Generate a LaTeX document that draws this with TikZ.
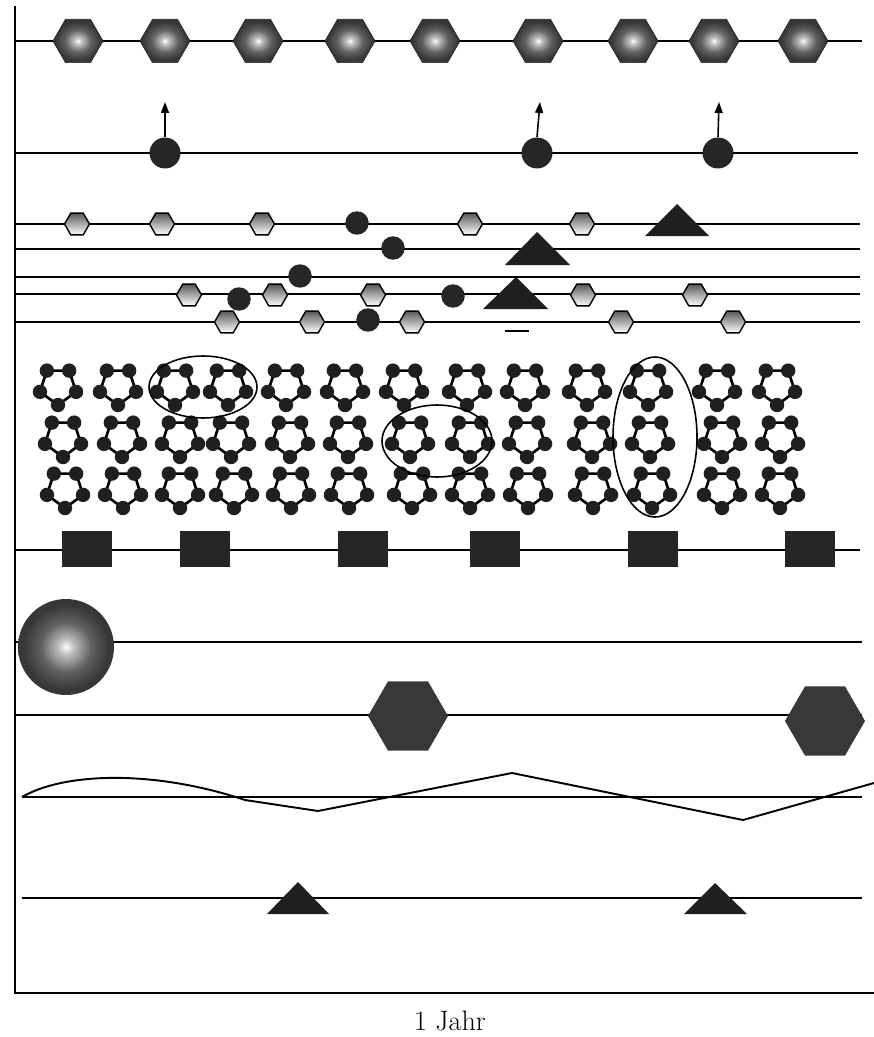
\documentclass[tikz,border=0pt]{standalone}
\usepackage{tikz}
\usetikzlibrary{positioning, arrows.meta, shapes.geometric}
\pgfdeclareradialshading{glow}{\pgfpoint{0bp}{0bp}}{color(0bp)=(white); color(4bp)=(white!75!black); color(13bp)=(black!62); color(22bp)=(black!78); color(50bp)=(black!85)}

\begin{document}
\begin{tikzpicture}[
    x=0.02cm, y=-0.02cm,
    track/.style={line width=1.1pt},
    axisline/.style={line width=1.3pt},
    bighex/.style={regular polygon, regular polygon sides=6, minimum size=1cm, inner sep=0pt, shading=glow, draw=black!85},
    smallhex/.style={regular polygon, regular polygon sides=6, minimum size=0.5cm, inner sep=0pt, top color=black!65, bottom color=white, draw=black, line width=0.8pt},
    dot/.style={circle, fill=black!85, minimum size=0.47cm, inner sep=0pt},
    bigdot/.style={dot, minimum size=0.62cm},
    block/.style={rectangle, fill=black!85, minimum width=1cm, minimum height=0.72cm, inner sep=0pt},
    globe/.style={circle, minimum size=1.92cm, inner sep=0pt, shading=glow},
    darkhex/.style={regular polygon, regular polygon sides=6, minimum size=1.6cm, inner sep=0pt, fill=black!78},
    tri/.style={fill=black!88},
    ringline/.style={line width=1.5pt},
    bead/.style={fill=black!88},
    rim/.style={line width=0.9pt},
    up/.style={-{Triangle[length=2.2mm,width=1.6mm]}, line width=0.9pt},
    yeartext/.style={font=\fontsize{16}{19}\selectfont}
]
\useasboundingbox (0,0) rectangle (874,1037);

% Top row: shining hexagons
\draw[track] (15,41) -- (862,41);
\foreach \x [count=\i] in {78,165,258,350,435,538,633,714,803}
  \node[bighex] (h\i) at (\x,41) {};

% Second row: dots with arrows
\draw[track] (15,153) -- (858,153);
\node[bigdot] (p1) at (165,153) {};
\node[bigdot] (p2) at (537,153) {};
\node[bigdot] (p3) at (718,153) {};
\coordinate (t1) at (165,102);
\coordinate (t2) at (540,102);
\coordinate (t3) at (719,102);
\draw[up] (p1.north) -- (t1);
\draw[up] (p2.north) -- (t2);
\draw[up] (p3.north) -- (t3);

% Dense lines: small hexagons, dots, triangles
\foreach \y in {224,249,277,294,322}
  \draw[track] (15,\y) -- (860,\y);
\foreach \x [count=\i] in {77,162,262,470,582}
  \node[smallhex] (sa\i) at (\x,224) {};
\foreach \x [count=\i] in {189,275,373,583,695}
  \node[smallhex] (sd\i) at (\x,295) {};
\foreach \x [count=\i] in {227,312,412,621,733}
  \node[smallhex] (se\i) at (\x,322) {};
\node[dot] (d1) at (357,223) {};
\node[dot] (d2) at (393,248) {};
\node[dot] (d3) at (300,276) {};
\node[dot] (d4) at (239,299) {};
\node[dot] (d5) at (453,296) {};
\node[dot] (d6) at (368,320) {};
\fill[tri] (645,236) -- (677,204) -- (709,236) -- cycle;
\fill[tri] (505,265) -- (537,232) -- (570,265) -- cycle;
\fill[tri] (483,309) -- (516,277) -- (548,309) -- cycle;
\draw[track] (505,331) -- (529,331);

% Rings of five
\foreach \y/\xs in {386/{58,118,175,228,286,345,404,467,525,587,648,717,777},
                    438/{63,122,180,231,290,348,410,470,527,592,650,722,780},
                    489/{65,123,180,234,291,349,412,470,528,593,652,722,780}}
  \foreach \x in \xs {
    \draw[ringline] (\x,\y) +(90:19) -- +(162:19) -- +(234:19) -- +(306:19) -- +(18:19) -- cycle;
    \foreach \a in {18,90,162,234,306}
      \fill[bead] (\x,\y) +(\a:19) circle (7.2);
  }
\draw[rim] (203,387) ellipse [x radius=54, y radius=31];
\draw[rim] (437,441) ellipse [x radius=55, y radius=36];
\draw[rim] (655,437) ellipse [x radius=42, y radius=80];

% Squares
\draw[track] (15,550) -- (860,550);
\foreach \x [count=\i] in {87,205,363,495,653,810}
  \node[block] (b\i) at (\x,549) {};

% Sphere
\draw[track] (15,642) -- (862,642);
\node[globe] (s1) at (66,647) {};

% Dark hexagons
\draw[track] (15,715) -- (862,715);
\node[darkhex] (k1) at (408,716) {};
\node[darkhex] (k2) at (825,721) {};

% Wave
\draw[track] (22,797) -- (862,797);
\draw[track] (22,797) .. controls (65,772) and (155,770) .. (245,800)
  -- (318,811) -- (512,773) -- (743,820) -- (874,783);

% Bottom triangles
\draw[track] (22,898) -- (862,898);
\fill[tri] (267,914) -- (298,882) -- (329,914) -- cycle;
\fill[tri] (684,914) -- (715,883) -- (747,914) -- cycle;

% Axes
\draw[axisline] (15,6) -- (15,993) -- (874,993);
\node[yeartext] (year) at (450,1021) {1 Jahr};

\end{tikzpicture}
\end{document}
